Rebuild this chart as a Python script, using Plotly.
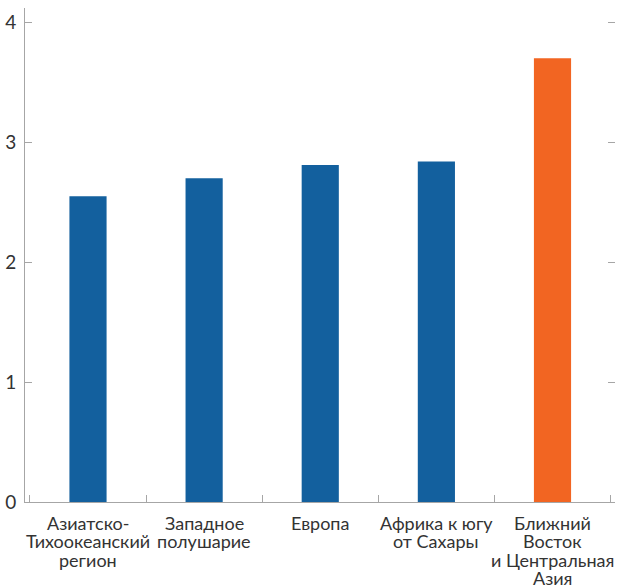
import plotly.graph_objects as go

categories = ["Азиатско-<br>Тихоокеанский<br>регион", "Западное<br>полушарие", "Европа",
              "Африка к югу<br>от Сахары", "Ближний<br>Восток<br>и Центральная<br>Азия"]
values = [2.55, 2.70, 2.81, 2.84, 3.70]
colors = ["#13609E", "#13609E", "#13609E", "#13609E", "#F26522"]
y_ticks = [0, 1, 2, 3, 4]

fig = go.Figure()
fig.add_trace(go.Bar(x=categories, y=values, marker_color=colors, marker_line_width=0,
                     width=0.32, showlegend=False, hoverinfo="skip"))
fig.add_trace(go.Bar(x=categories, y=values, yaxis="y2", opacity=0, showlegend=False,
                     hoverinfo="skip", width=0.32))

# category labels, one annotation per line for tight line spacing
for cat in categories:
    for i, line in enumerate(cat.split("<br>")):
        fig.add_annotation(x=cat, y=0, xref="x", yref="y", text=line, showarrow=False,
                           xanchor="center", yanchor="middle", yshift=-(20.5 + i * 18.5),
                           borderpad=0,
                           font=dict(family="Lato", size=18, color="#333333"))

axis_col = "#A6A6A6"
fig.update_layout(
    width=618, height=585,
    margin=dict(l=25, r=3, t=8, b=83),
    paper_bgcolor="white", plot_bgcolor="white",
    font=dict(family="Lato", color="#333333"),
    barmode="overlay",
    xaxis=dict(showline=True, linecolor=axis_col, linewidth=1, ticks="inside", ticklen=7,
               tickcolor=axis_col, tickson="boundaries", showgrid=False, showticklabels=False,
               zeroline=False, automargin=False),
    yaxis=dict(range=[0, 4.12], tickvals=y_ticks, showline=True, linecolor=axis_col, linewidth=1,
               ticks="inside", ticklen=7, tickcolor=axis_col, showgrid=False, zeroline=False,
               tickfont=dict(size=19, color="#333333"), ticklabelstandoff=4, automargin=False),
    yaxis2=dict(range=[0, 4.12], tickvals=y_ticks, overlaying="y", side="right", showline=False,
                ticks="inside", ticklen=7, tickcolor=axis_col, showticklabels=False,
                showgrid=False, zeroline=False, automargin=False),
)
fig.write_html("out.html", config={"displayModeBar": False},
               post_script="document.body.style.margin='0';document.body.style.overflow='hidden';")
